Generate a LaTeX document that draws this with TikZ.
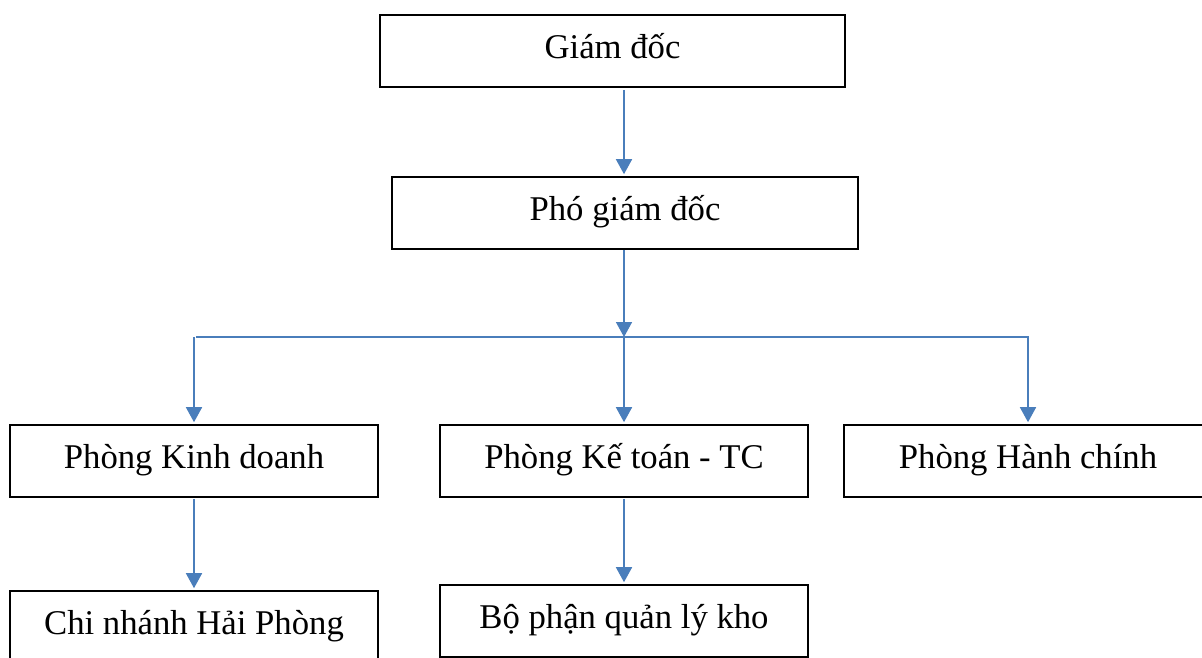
\documentclass[tikz,border=0pt]{standalone}
\usepackage{fontspec}
\setmainfont{Liberation Serif}
\usetikzlibrary{arrows.meta,calc}
\definecolor{arrblue}{HTML}{4A7EBB}
\begin{document}
\begin{tikzpicture}[x=1pt,y=-1pt,
  box/.style={draw=black, line width=1.6pt, minimum width=368pt, minimum height=72pt,
    inner sep=0pt, text height=24pt, text depth=10pt,
    font=\fontsize{34.7}{40}\selectfont},
  arr/.style={draw=arrblue, line width=1.6pt, -{Triangle[width=16pt,length=15pt]}},
  hline/.style={draw=arrblue, line width=1.6pt}]
\useasboundingbox (0,0) rectangle (1202,657);
\clip (0,0) rectangle (1202,657);
\node[box, minimum width=465pt] (gd) at (612.5,51) {Giám đốc};
\node[box, minimum width=466pt] (pgd) at (625,213) {Phó giám đốc};
\node[box] (kd) at (194,461) {Phòng Kinh doanh};
\node[box] (kt) at (624,461) {Phòng Kế toán - TC};
\node[box] (hc) at (1028,461) {Phòng Hành chính};
\node[box] (cn) at (194,627) {Chi nhánh Hải Phòng};
\node[box] (bp) at (624,621) {Bộ phận quản lý kho};
\coordinate (j) at (624,337);
\coordinate (hl) at (196,337);
\coordinate (hr) at (1029,337);
\draw[arr, shorten <=2pt, shorten >=2pt] (gd.south -| kt.north) -- (pgd.north -| kt.north);
\draw[arr, shorten >=0pt] (pgd.south -| j) -- (j);
\draw[hline] (hl) -- (hr);
\draw[arr, shorten >=2pt] (kd.north |- j) -- (kd.north);
\draw[arr, shorten >=2pt] (j) -- (kt.north);
\draw[arr, shorten >=2pt] (hc.north |- j) -- (hc.north);
\draw[arr, shorten <=1pt, shorten >=2pt] (kd.south) -- (cn.north);
\draw[arr, shorten <=1pt, shorten >=2pt] (kt.south) -- (bp.north);
\end{tikzpicture}
\end{document}
